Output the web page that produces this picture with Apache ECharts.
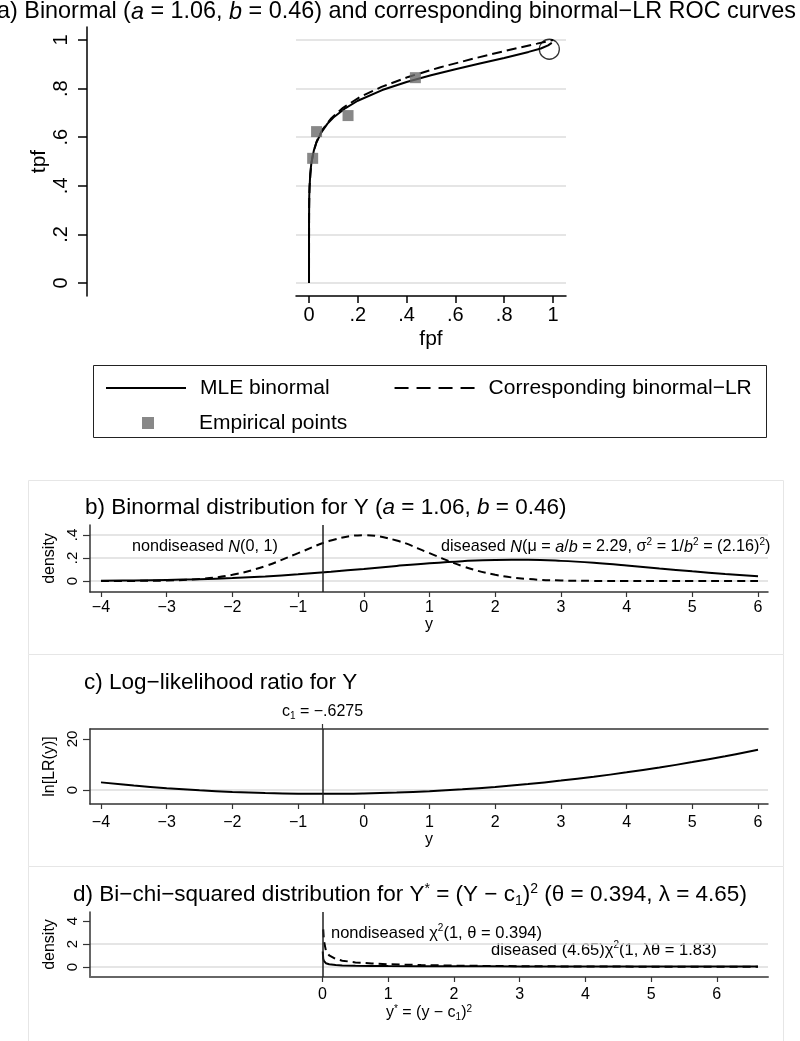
<!DOCTYPE html>
<html><head><meta charset="utf-8">
<script src="https://cdn.jsdelivr.net/npm/echarts@6/dist/echarts.min.js"></script>
<style>html,body{margin:0;padding:0;background:#fff}#c{width:800px;height:1041px}</style>
</head><body><div id="c"></div>
<script>
const FONT = '"Liberation Sans", Arial, Helvetica, sans-serif';
const C1 = -0.6275;

// ---------- Panel a: ROC curves ----------
const rocFpf = [0, 0.000001, 0.0001, 0.001, 0.005, 0.01, 0.02, 0.03, 0.05, 0.075, 0.1, 0.15, 0.2, 0.3, 0.4, 0.5, 0.6, 0.7, 0.8, 0.9, 0.95, 0.98, 0.995];
const rocTpf = [0, 0.130, 0.258, 0.359, 0.450, 0.496, 0.546, 0.577, 0.619, 0.655, 0.681, 0.720, 0.750, 0.794, 0.827, 0.855, 0.880, 0.903, 0.926, 0.951, 0.965, 0.978, 0.988];
const lrFpf = [0, 0.0004, 0.0020, 0.0090, 0.0173, 0.0315, 0.0544, 0.0893, 0.1395, 0.2082, 0.2970, 0.4066, 0.5355, 0.6805, 0.8372, 0.9346, 1];
const lrTpf = [0, 0.309, 0.395, 0.488, 0.535, 0.583, 0.630, 0.676, 0.721, 0.765, 0.807, 0.848, 0.887, 0.925, 0.963, 0.985, 1];
const empFpf = [0.015, 0.031, 0.160, 0.436];
const empTpf = [0.513, 0.623, 0.689, 0.845];
const opFpf = [0.985];
const opTpf = [0.962];
const aTicks = [0, 0.2, 0.4, 0.6, 0.8, 1];

// ---------- Panel b: binormal densities ----------
const bY = [-4, -3.5, -3, -2.5, -2, -1.5, -1, -0.5, 0, 0.5, 1, 1.5, 2, 2.5, 3, 3.5, 4, 4.5, 5, 5.5, 6];
const bNon = [0.0001, 0.0009, 0.0044, 0.0175, 0.054, 0.1295, 0.242, 0.352, 0.399, 0.352, 0.242, 0.1295, 0.054, 0.0175, 0.0044, 0.0009, 0.0001, 0, 0, 0, 0];
const bDis = [0.0027, 0.0051, 0.0092, 0.0158, 0.0257, 0.0396, 0.0579, 0.0802, 0.1053, 0.1310, 0.1545, 0.1727, 0.1830, 0.1838, 0.1750, 0.1579, 0.1350, 0.1094, 0.0841, 0.0612, 0.0423];
const yTicks = [-4, -3, -2, -1, 0, 1, 2, 3, 4, 5, 6];
const bYTicks = [0, 0.2, 0.4];

// ---------- Panel c: log-likelihood ratio ----------
const cLR = [2.99, 1.76, 0.73, -0.10, -0.74, -1.18, -1.43, -1.48, -1.33, -0.99, -0.45, 0.29, 1.22, 2.35, 3.68, 5.20, 6.92, 8.83, 10.94, 13.25, 15.76];
const cYTicks = [0, 20];
const cGrid = [0];

// ---------- Panel d: bi-chi-squared densities ----------
const dNonX = [0.01, 0.02, 0.05, 0.1, 0.2, 0.3, 0.5, 0.75, 1, 1.5, 2, 2.5, 3, 4, 5, 6, 6.6275];
const dNon = [3.27, 2.30, 1.44, 1.01, 0.69, 0.55, 0.40, 0.30, 0.24, 0.166, 0.121, 0.091, 0.070, 0.042, 0.026, 0.016, 0.012];
const dDisX = [0.003, 0.01, 0.02, 0.05, 0.1, 0.2, 0.3, 0.5, 0.75, 1, 1.5, 2, 2.5, 3, 4, 5, 6, 6.6275];
const dDis = [1.35, 0.74, 0.53, 0.33, 0.24, 0.17, 0.14, 0.11, 0.091, 0.080, 0.067, 0.060, 0.055, 0.051, 0.046, 0.042, 0.039, 0.037];
const dXTicks = [0, 1, 2, 3, 4, 5, 6];
const dYTicks = [0, 2, 4];
const dGrid = [0, 2];

const pairs = (xs, ys) => xs.map((x, i) => [x, ys[i]]);
const fmt = v => {
  let s = String(+(+v).toFixed(4));
  s = s.replace(/^0\./, '.').replace(/^-0\./, '-.');
  return s.replace('-', '\u2212');
};

function richSet(S) {
  return {
    t: {fontSize: S, fontFamily: FONT, lineHeight: Math.round(S * 1.15), verticalAlign: 'middle', color: '#000'},
    i: {fontSize: S, fontFamily: FONT, fontStyle: 'italic', lineHeight: Math.round(S * 1.15), verticalAlign: 'middle', color: '#000'},
    sup: {fontSize: Math.round(S * 0.6), fontFamily: FONT, lineHeight: Math.round(S * 0.6), verticalAlign: 'top', color: '#000'},
    sub: {fontSize: Math.round(S * 0.6), fontFamily: FONT, lineHeight: Math.round(S * 0.6), verticalAlign: 'bottom', color: '#000'}
  };
}

const AX = '#333';
function xAx(grid, min, max, ticks, o) {
  return Object.assign({
    gridIndex: grid, type: 'value', min: min, max: max,
    axisLine: {show: true, onZero: false, lineStyle: {color: AX, width: 1.5}},
    axisTick: {show: true, customValues: ticks, length: 5, lineStyle: {color: AX, width: 1.2}},
    axisLabel: {customValues: ticks, formatter: fmt, fontSize: 16, color: '#000', fontFamily: FONT, margin: 8},
    splitLine: {show: false},
    nameLocation: 'middle', nameTextStyle: {fontSize: 16, color: '#000', fontFamily: FONT}
  }, o);
}
function yAx(grid, min, max, ticks, o) {
  return Object.assign({
    gridIndex: grid, type: 'value', min: min, max: max,
    axisLine: {show: true, onZero: false, lineStyle: {color: AX, width: 1.5}},
    axisTick: {show: true, customValues: ticks, length: 7, lineStyle: {color: AX, width: 1.2}},
    axisLabel: {customValues: ticks, formatter: fmt, fontSize: 15, color: '#000', fontFamily: FONT, rotate: 90, margin: 10},
    splitLine: {show: false},
    nameLocation: 'middle', nameRotate: 90, nameTextStyle: {fontSize: 16, color: '#000', fontFamily: FONT}
  }, o);
}
function gridAx(grid, min, max, ticks) {
  return {gridIndex: grid, type: 'value', min: min, max: max,
    axisLine: {show: false}, axisTick: {show: false, customValues: ticks},
    axisLabel: {show: false, customValues: ticks},
    splitLine: {show: true, lineStyle: {color: '#dcdcdc', width: 1.5}}};
}

const GRIDLINE = {show: true, lineStyle: {color: '#dcdcdc', width: 1.5}};
const BX = [-4.167, 6.152];
const DX = [BX[0] - C1, BX[1] - C1];

const vline = (v) => ({silent: true, symbol: 'none', animation: false,
  label: {show: false}, emphasis: {disabled: true},
  lineStyle: {color: '#222', width: 1.5, type: 'solid'}, data: [{xAxis: v}]});

const solid = {color: '#000', width: 2, type: 'solid'};
const dashed = {color: '#000', width: 2, type: [8, 5]};
const noMarker = {color: 'rgba(0,0,0,0)', borderColor: 'rgba(0,0,0,0)', borderWidth: 0};

const option = {
  animation: false,
  textStyle: {fontFamily: FONT},
  grid: [
    {left: 296, top: 27, width: 270, height: 269},
    {left: 90, top: 525, width: 678, height: 67},
    {left: 90, top: 729, width: 678, height: 75},
    {left: 90, top: 912, width: 678, height: 65}
  ],
  xAxis: [
    xAx(0, -0.0533, 1.0533, aTicks, {
      axisLine: {show: true, onZero: false, lineStyle: {color: '#000', width: 1.5}},
      axisTick: {show: true, customValues: aTicks, length: 7, lineStyle: {color: '#000', width: 1.5}},
      axisLabel: {customValues: aTicks, formatter: fmt, fontSize: 20, color: '#000', fontFamily: FONT, margin: 9},
      name: 'fpf', nameGap: 33, nameTextStyle: {fontSize: 21, color: '#000', fontFamily: FONT}
    }),
    xAx(1, BX[0], BX[1], yTicks, {name: 'y', nameGap: 23}),
    xAx(2, BX[0], BX[1], yTicks, {name: 'y', nameGap: 26, axisLabel: {customValues: yTicks, formatter: fmt, fontSize: 16, color: '#000', fontFamily: FONT, margin: 11}}),
    xAx(2, BX[0], BX[1], [C1], {
      position: 'top',
      axisTick: {show: true, customValues: [C1], length: 5, lineStyle: {color: AX, width: 1.2}},
      axisLabel: {customValues: [C1], fontFamily: FONT, margin: 8,
        formatter: () => '{t|c}{sub|1}{t| = \u2212.6275}', rich: richSet(16)}
    }),
    xAx(3, DX[0], DX[1], dXTicks, {
      axisLine: {show: true, onZero: false, lineStyle: {color: '#666', width: 2}},
      axisLabel: {customValues: dXTicks, formatter: fmt, fontSize: 16, color: '#000', fontFamily: FONT, margin: 10},
      name: '{t|y}{sup|*}{t| = (y \u2212 c}{sub|1}{t|)}{sup|2}', nameGap: 25,
      nameTextStyle: {fontSize: 16, fontFamily: FONT, rich: richSet(16)}
    })
  ],
  yAxis: [
    yAx(0, -0.0535, 1.0535, aTicks, {
      offset: 209,
      axisLine: {show: true, onZero: false, lineStyle: {color: '#000', width: 1.5}},
      axisTick: {show: true, customValues: aTicks, length: 9, lineStyle: {color: '#000', width: 1.5}},
      axisLabel: {customValues: aTicks, formatter: fmt, fontSize: 20, color: '#000', fontFamily: FONT, rotate: 90, margin: 16},
      splitLine: GRIDLINE,
      name: 'tpf', nameGap: 29, nameTextStyle: {fontSize: 21, color: '#000', fontFamily: FONT}
    }),
    yAx(1, -0.0957, 0.487, bYTicks, {splitLine: GRIDLINE, name: 'density', nameGap: 27}),
    yAx(2, -5.49, 23.92, cYTicks, {name: 'ln[LR(y)]', nameGap: 27}),
    yAx(3, -0.87, 4.78, dYTicks, {name: 'density', nameGap: 27}),
    gridAx(2, -5.49, 23.92, cGrid),
    gridAx(3, -0.87, 4.78, dGrid)
  ],
  legend: [
    {left: 100, top: 371, itemWidth: 80, itemHeight: 14, itemGap: 64, selectedMode: false,
      textStyle: {fontSize: 21, color: '#000', fontFamily: FONT, padding: [0, 0, 0, 9], lineHeight: 24},
      data: [
        {name: 'MLE binormal', itemStyle: noMarker},
        {name: 'Corresponding binormal\u2212LR', itemStyle: noMarker, lineStyle: {type: [14, 8]}}
      ]},
    {left: 137, top: 406, itemWidth: 12, itemHeight: 12, selectedMode: false,
      textStyle: {fontSize: 21, color: '#000', fontFamily: FONT, padding: [0, 0, 0, 40], lineHeight: 24},
      data: [{name: 'Empirical points', icon: 'rect'}]}
  ],
  series: [
    {type: 'line', name: 'MLE binormal', xAxisIndex: 0, yAxisIndex: 0, data: pairs(rocFpf, rocTpf),
      symbol: 'none', lineStyle: solid, itemStyle: {color: '#000'}, z: 3, emphasis: {disabled: true}},
    {type: 'line', name: 'Corresponding binormal\u2212LR', xAxisIndex: 0, yAxisIndex: 0, data: pairs(lrFpf, lrTpf),
      symbol: 'none', lineStyle: {color: '#000', width: 2, type: [10, 5]}, itemStyle: {color: '#000'}, z: 3, emphasis: {disabled: true}},
    {type: 'scatter', name: 'Empirical points', xAxisIndex: 0, yAxisIndex: 0, data: pairs(empFpf, empTpf),
      symbol: 'rect', symbolSize: 11, itemStyle: {color: '#6a6a6a'}, z: 4, emphasis: {disabled: true}},
    {type: 'scatter', name: 'operating point', xAxisIndex: 0, yAxisIndex: 0, data: pairs(opFpf, opTpf),
      symbol: 'circle', symbolSize: 20, itemStyle: {color: 'rgba(0,0,0,0)', borderColor: '#000', borderWidth: 1.3}, z: 5, emphasis: {disabled: true}},

    {type: 'line', name: 'nondiseased N(0, 1)', xAxisIndex: 1, yAxisIndex: 1, data: pairs(bY, bNon),
      symbol: 'none', smooth: 0.4, lineStyle: dashed, itemStyle: {color: '#000'}, emphasis: {disabled: true}, markLine: vline(C1)},
    {type: 'line', name: 'diseased N(2.29, 2.16^2)', xAxisIndex: 1, yAxisIndex: 1, data: pairs(bY, bDis),
      symbol: 'none', smooth: 0.4, lineStyle: solid, itemStyle: {color: '#000'}, emphasis: {disabled: true}},

    {type: 'line', name: 'ln LR(y)', xAxisIndex: 2, yAxisIndex: 2, data: pairs(bY, cLR),
      symbol: 'none', smooth: 0.4, lineStyle: solid, itemStyle: {color: '#000'}, emphasis: {disabled: true}, markLine: vline(C1)},

    {type: 'line', name: 'nondiseased chi2', xAxisIndex: 4, yAxisIndex: 3, data: pairs(dNonX, dNon),
      symbol: 'none', lineStyle: dashed, itemStyle: {color: '#000'}, emphasis: {disabled: true}, markLine: vline(0)},
    {type: 'line', name: 'diseased chi2', xAxisIndex: 4, yAxisIndex: 3, data: pairs(dDisX, dDis),
      symbol: 'none', lineStyle: solid, itemStyle: {color: '#000'}, emphasis: {disabled: true}}
  ],
  graphic: [
    {type: 'rect', z: -10, silent: true, shape: {x: 28.5, y: 480.5, width: 755, height: 174}, style: {fill: 'none', stroke: '#e6e6e6', lineWidth: 1}},
    {type: 'rect', z: -10, silent: true, shape: {x: 28.5, y: 654.5, width: 755, height: 212}, style: {fill: 'none', stroke: '#e6e6e6', lineWidth: 1}},
    {type: 'rect', z: -10, silent: true, shape: {x: 28.5, y: 866.5, width: 755, height: 200}, style: {fill: 'none', stroke: '#e6e6e6', lineWidth: 1}},
    {type: 'rect', silent: true, shape: {x: 93.5, y: 365.5, width: 673, height: 72}, style: {fill: 'none', stroke: '#222', lineWidth: 1}},
    {type: 'text', silent: true, x: -3, y: 12, style: {text: '{t|a) Binormal (}{i|a}{t| = 1.06, }{i|b}{t| = 0.46) and corresponding binormal\u2212LR ROC curves}', rich: richSet(23.4), fontSize: 23.4, fontFamily: FONT, fill: '#000', align: 'left', verticalAlign: 'middle'}},
    {type: 'text', silent: true, x: 85, y: 508, style: {text: '{t|b) Binormal distribution for Y (}{i|a}{t| = 1.06, }{i|b}{t| = 0.46)}', rich: richSet(22.5), fontSize: 22.5, fontFamily: FONT, fill: '#000', align: 'left', verticalAlign: 'middle'}},
    {type: 'text', silent: true, x: 84, y: 683, style: {text: '{t|c) Log\u2212likelihood ratio for Y}', rich: richSet(22.5), fontSize: 22.5, fontFamily: FONT, fill: '#000', align: 'left', verticalAlign: 'middle'}},
    {type: 'text', silent: true, x: 73, y: 895, style: {text: '{t|d) Bi\u2212chi\u2212squared distribution for Y}{sup|*}{t| = (Y \u2212 c}{sub|1}{t|)}{sup|2}{t| (\u03b8 = 0.394, \u03bb = 4.65)}', rich: richSet(22.5), fontSize: 22.5, fontFamily: FONT, fill: '#000', align: 'left', verticalAlign: 'middle'}},
    {type: 'text', silent: true, x: 132, y: 547, style: {text: '{t|nondiseased }{i|N}{t|(0, 1)}', rich: richSet(16.2), fontSize: 16.2, fontFamily: FONT, fill: '#000', align: 'left', verticalAlign: 'middle'}},
    {type: 'text', silent: true, x: 441, y: 547, style: {text: '{t|diseased }{i|N}{t|(\u03bc = }{i|a}{t|/}{i|b}{t| = 2.29, \u03c3}{sup|2}{t| = 1/}{i|b}{sup|2}{t| = (2.16)}{sup|2}{t|)}', rich: richSet(16.2), fontSize: 16.2, fontFamily: FONT, fill: '#000', align: 'left', verticalAlign: 'middle'}},
    {type: 'text', silent: true, x: 331, y: 933, style: {text: '{t|nondiseased \u03c7}{sup|2}{t|(1, \u03b8 = 0.394)}', rich: richSet(16.5), fontSize: 16.5, fontFamily: FONT, fill: '#000', align: 'left', verticalAlign: 'middle'}},
    {type: 'text', silent: true, x: 491, y: 950, style: {text: '{t|diseased (4.65)\u03c7}{sup|2}{t|(1, \u03bb\u03b8 = 1.83)}', rich: richSet(16.5), fontSize: 16.5, fontFamily: FONT, fill: '#000', align: 'left', verticalAlign: 'middle'}}
  ]
};

const chart = echarts.init(document.getElementById('c'), null, {renderer: 'canvas'});
chart.setOption(option);
</script>
</body></html>
